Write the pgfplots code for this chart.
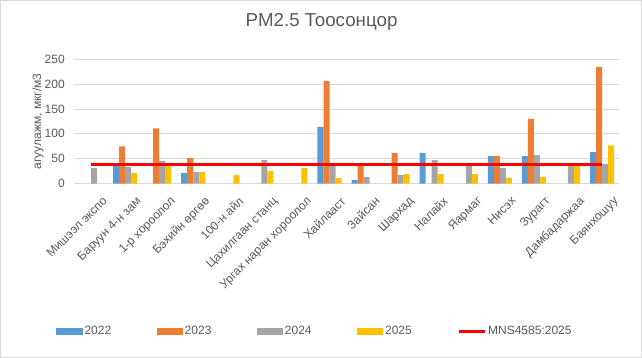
\documentclass[border=0pt]{standalone}
\usepackage{fontspec}
\setmainfont{Liberation Sans}
\usepackage{pgfplots}
\pgfplotsset{compat=1.18}
\definecolor{cA}{HTML}{5B9BD5}
\definecolor{cB}{HTML}{ED7D31}
\definecolor{cC}{HTML}{A5A5A5}
\definecolor{cD}{HTML}{FFC000}
\definecolor{txt}{HTML}{595959}
\definecolor{gridc}{HTML}{D9D9D9}
\begin{document}
\begin{tikzpicture}[x=1pt,y=1pt]
\draw[gridc, line width=0.75pt] (0.5,0.5) rectangle (640.5,356.5);
\node[text=txt, font=\fontsize{18.7}{22}\selectfont, anchor=base] at (321,330) {PM2.5 Тоосонцор};
\begin{axis}[
  at={(74pt,173.7pt)}, anchor=south west,
  scale only axis, width=544pt, height=124pt,
  xmin=-0.5, xmax=15.5, ymin=0, ymax=250,
  ytick={0,50,...,250},
  xtick={0,...,15},
  xticklabels={Мишээл экспо, Баруун 4-н зам, 1-р хороолол, Бэхийн өргөө, 100-н айл, Цахилгаан станц, Ургах наран хороолол, Хайлааст, Зайсан, Шархад, Налайх, Яармаг, Нисэх, Зурагт, Дамбадаржаа, Баянхошуу},
  ymajorgrids, grid style={gridc, line width=0.75pt},
  axis line style={draw=none}, major tick length=0pt,
  tick label style={text=txt, font=\fontsize{12}{14}\selectfont},
  /pgf/number format/assume math mode=true,
  yticklabel style={inner sep=0pt, xshift=-9pt},
  xticklabel style={rotate=45, anchor=north east, inner sep=0pt, yshift=-16pt, xshift=-1pt},
  ylabel={агуулажм, мкг/м3},
  ylabel style={at={(axis description cs:-0.0662,0.5)}, anchor=center, text=txt, font=\fontsize{12}{14}\selectfont},
  legend columns=5,
  legend style={at={(axis description cs:-0.0322,-1.189)}, anchor=west, draw=none, fill=none,
    inner sep=0pt, outer sep=0pt, text=txt, font=\fontsize{12}{14}\selectfont,
    nodes={inner sep=0pt},
    /tikz/every odd column/.append style={column sep=2pt},
    /tikz/every even column/.append style={column sep=0pt}},
]
\addplot[ybar, bar width=6pt, bar shift=-9pt, fill=cA, draw=none,
  legend image code/.code={\fill[cA] (0pt,-3.5pt) rectangle (26pt,3.5pt);}]
  coordinates {(1,37) (3,21) (7,114) (8,7) (10,61) (12,55) (13,55) (15,63)};
\addlegendentry{\makebox[72pt][l]{2022}}
\addplot[ybar, bar width=6pt, bar shift=-3pt, fill=cB, draw=none,
  legend image code/.code={\fill[cB] (0pt,-3.5pt) rectangle (26pt,3.5pt);}]
  coordinates {(1,75) (2,111) (3,51) (7,206) (8,37) (9,61) (12,55) (13,130) (15,234)};
\addlegendentry{\makebox[72pt][l]{2023}}
\addplot[ybar, bar width=6pt, bar shift=3pt, fill=cC, draw=none,
  legend image code/.code={\fill[cC] (0pt,-3.5pt) rectangle (26pt,3.5pt);}]
  coordinates {(0,31) (1,33) (2,45) (3,23) (5,47) (7,35) (8,13) (9,17) (10,47) (11,35) (12,31) (13,57) (14,36) (15,39)};
\addlegendentry{\makebox[72pt][l]{2024}}
\addplot[ybar, bar width=6pt, bar shift=9pt, fill=cD, draw=none,
  legend image code/.code={\fill[cD] (0pt,-3.5pt) rectangle (26pt,3.5pt);}]
  coordinates {(1,21) (2,37) (3,23) (4,17) (5,25) (6,31) (7,11) (9,19) (10,19) (11,19) (12,11) (13,13) (14,38) (15,77)};
\addlegendentry{\makebox[72pt][l]{2025}}
\addplot[red, line width=2.75pt, mark=none,
  legend image code/.code={\draw[red, line width=2.75pt] (0pt,0pt) -- (26pt,0pt);}]
  coordinates {(0,38) (1,38) (2,38) (3,38) (4,38) (5,38) (6,38) (7,38) (8,38) (9,38) (10,38) (11,38) (12,38) (13,38) (14,38) (15,38)};
\addlegendentry{MNS4585:2025}
\end{axis}
\end{tikzpicture}
\end{document}
